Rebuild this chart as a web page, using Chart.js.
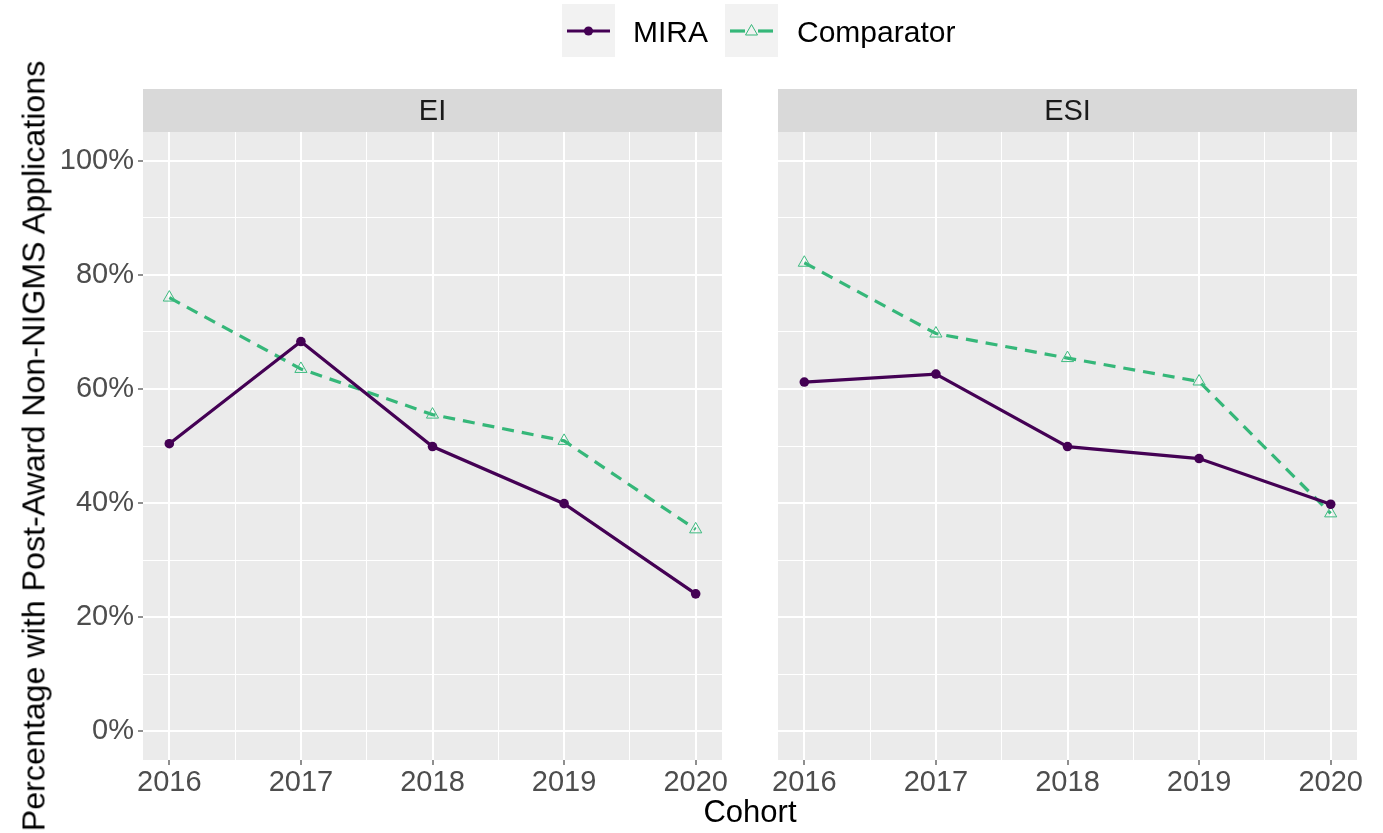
<!DOCTYPE html>
<html>
<head>
<meta charset="utf-8">
<script src="https://cdn.jsdelivr.net/npm/chart.js@4"></script>
<style>
  body { margin: 0; background: #fff; font-family: "Liberation Sans", Arial, sans-serif; }
  #wrap { position: relative; width: 1383px; height: 833px; overflow: hidden; }
  canvas { position: absolute; top: 0; }
  .key { position: absolute; top: 4px; width: 53px; height: 53px; background: #f2f2f2; }
  .lab { position: absolute; font-size: 30px; color: #000; line-height: 30px; top: 17px; }
  #ytitle { position: absolute; left: 34px; top: 446px; transform: translate(-50%, -50%) rotate(-90deg);
            white-space: nowrap; font-size: 32.2px; color: #000; }
  #xtitle { position: absolute; left: 750px; top: 812px; transform: translate(-50%, -50%); font-size: 31px; color: #000; }
</style>
</head>
<body>
<div id="wrap">
  <canvas id="chartEI" width="730" height="800" style="left:0px"></canvas>
  <canvas id="chartESI" width="600" height="800" style="left:770px"></canvas>

  <div class="key" style="left:562px">
    <svg width="53" height="53"><line x1="5" y1="27" x2="48" y2="27" stroke="#440154" stroke-width="3.2"/><circle cx="26.5" cy="27" r="4.6" fill="#440154"/></svg>
  </div>
  <div class="lab" style="left:633px">MIRA</div>
  <div class="key" style="left:725px">
    <svg width="53" height="53"><line x1="5" y1="27" x2="20" y2="27" stroke="#35b779" stroke-width="3.2"/><line x1="33" y1="27" x2="48" y2="27" stroke="#35b779" stroke-width="3.2"/><polygon points="26.5,20.5 32.5,31 20.5,31" fill="none" stroke="#35b779" stroke-width="1"/></svg>
  </div>
  <div class="lab" style="left:797px">Comparator</div>

  <div id="ytitle">Percentage with Post-Award Non-NIGMS Applications</div>
  <div id="xtitle">Cohort</div>
</div>
<script>
const cohorts = [2016, 2017, 2018, 2019, 2020];
const eiMira = [50.4, 68.3, 49.9, 39.9, 24.1];
const eiComparator = [76.0, 63.5, 55.5, 50.9, 35.4];
const esiMira = [61.2, 62.6, 49.9, 47.8, 39.8];
const esiComparator = [82.1, 69.7, 65.4, 61.3, 38.2];
const yTicks = [0, 10, 20, 30, 40, 50, 60, 70, 80, 90, 100];
const xTicks = [2016, 2016.5, 2017, 2017.5, 2018, 2018.5, 2019, 2019.5, 2020];

const miraColor = "#440154";
const compColor = "#35b779";

// panel background and facet strip
const panelPlugin = {
  id: "panel",
  beforeDraw(chart, args, opts) {
    const { ctx, chartArea: a } = chart;
    ctx.save();
    ctx.fillStyle = "#ebebeb";
    ctx.fillRect(a.left, a.top, a.right - a.left, a.bottom - a.top);
    ctx.fillStyle = "#d9d9d9";
    ctx.fillRect(a.left, 89, a.right - a.left, a.top - 89);
    ctx.fillStyle = "#1a1a1a";
    ctx.font = "29px 'Liberation Sans', Arial, sans-serif";
    ctx.textAlign = "center";
    ctx.textBaseline = "middle";
    ctx.fillText(opts.label, (a.left + a.right) / 2, 112);
    ctx.restore();
  },
};

function pts(vals) {
  return cohorts.map((c, i) => ({ x: c, y: vals[i] }));
}

function makePanel(id, label, mira, comp, showY, pad) {
  return new Chart(document.getElementById(id), {
    type: "line",
    data: {
      datasets: [
        {
          label: "MIRA",
          data: pts(mira),
          borderColor: miraColor,
          backgroundColor: miraColor,
          borderWidth: 3.2,
          pointRadius: 4.8,
          pointBorderWidth: 0,
          pointStyle: "circle",
          tension: 0,
        },
        {
          label: "Comparator",
          data: pts(comp),
          borderColor: compColor,
          backgroundColor: "rgba(0,0,0,0)",
          borderWidth: 3.2,
          borderDash: [12, 8],
          pointRadius: 7,
          pointStyle: "triangle",
          pointBorderWidth: 1,
          pointBorderColor: "#3dbb80",
          tension: 0,
        },
      ],
    },
    options: {
      responsive: false,
      animation: false,
      layout: { padding: pad },
      plugins: {
        legend: { display: false },
        tooltip: { enabled: false },
        panel: { label: label },
      },
      scales: {
        x: {
          type: "linear",
          min: 2015.8,
          max: 2020.2,
          afterBuildTicks: (s) => { s.ticks = xTicks.map((v) => ({ value: v })); },
          afterFit: (s) => { s.height = 40; },
          border: { display: false },
          grid: {
            color: "#ffffff",
            lineWidth: (c) => (Number.isInteger(c.tick.value) ? 2 : 1),
            tickColor: (c) => (Number.isInteger(c.tick.value) ? "#333333" : "rgba(0,0,0,0)"),
            tickLength: 5,
            tickWidth: 1.1,
          },
          ticks: {
            autoSkip: false,
            maxRotation: 0,
            padding: 1,
            color: "#4d4d4d",
            font: { family: "'Liberation Sans', Arial, sans-serif", size: 29 },
            callback: (v) => (Number.isInteger(v) ? String(v) : ""),
          },
        },
        y: {
          min: -5,
          max: 105,
          afterBuildTicks: (s) => { s.ticks = yTicks.map((v) => ({ value: v })); },
          afterFit: (s) => { s.width = showY ? 143 : 0; },
          border: { display: false },
          grid: {
            color: "#ffffff",
            lineWidth: (c) => (c.tick.value % 20 === 0 ? 2 : 1),
            drawTicks: showY,
            tickColor: (c) => (c.tick.value % 20 === 0 ? "#333333" : "rgba(0,0,0,0)"),
            tickLength: 5,
            tickWidth: 1.1,
          },
          ticks: {
            display: showY,
            autoSkip: false,
            padding: 4,
            color: "#4d4d4d",
            font: { family: "'Liberation Sans', Arial, sans-serif", size: 29 },
            callback: (v) => (v % 20 === 0 ? v + "%" : ""),
          },
        },
      },
    },
    plugins: [panelPlugin],
  });
}

makePanel("chartEI", "EI", eiMira, eiComparator, true, { top: 132, left: 0, right: 7, bottom: 0 });
makePanel("chartESI", "ESI", esiMira, esiComparator, false, { top: 132, left: 7, right: 13, bottom: 0 });
</script>
</body>
</html>
